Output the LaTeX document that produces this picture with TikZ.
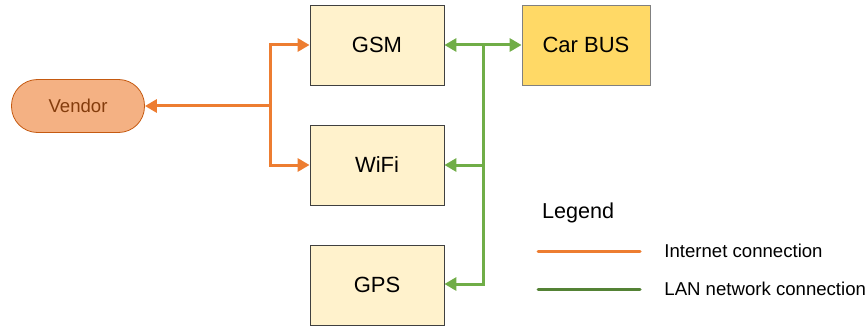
\documentclass[tikz,border=0pt]{standalone}
\usepackage{fontspec}
\setmainfont{Liberation Sans}
\usetikzlibrary{arrows.meta}
\definecolor{boxfill}{HTML}{FFF2CC}
\definecolor{busfill}{HTML}{FFD966}
\definecolor{vendfill}{HTML}{F4B183}
\definecolor{venddraw}{HTML}{C55A11}
\definecolor{vendtext}{HTML}{843C0C}
\definecolor{inetcol}{HTML}{ED7D31}
\definecolor{lancol}{HTML}{70AD47}
\definecolor{legcol}{HTML}{548235}
\tikzset{
  unit/.style={draw=black!75,fill=boxfill,minimum width=67pt,minimum height=40pt,font=\fontsize{11}{13}\selectfont},
  inet/.style={draw=inetcol,line width=1.5pt,-{Triangle[length=6pt,width=6.5pt]}},
  lan/.style={draw=lancol,line width=1.5pt,-{Triangle[length=6pt,width=6.5pt]}}
}
\begin{document}
\begin{tikzpicture}[x=0.5pt,y=-0.5pt]
    \useasboundingbox (0,0) rectangle (867,326);
    % units
    \node[unit] (gsm) at (377,45) {GSM};
    \node[unit] (wifi) at (377,165) {WiFi};
    \node[unit] (gps) at (377,285) {GPS};
    \node[unit,fill=busfill,draw=black!50,minimum width=64pt] (bus) at (586,45) {Car BUS};
    \node[draw=venddraw,fill=vendfill,text=vendtext,rounded corners=13pt,minimum width=66.5pt,minimum height=26.5pt,font=\fontsize{9.3}{11}\selectfont] (vendor) at (78,106) {Vendor};
    % internet
    \coordinate (ojoin) at (270,106);
    \coordinate (gjoin) at (483,45);
    \draw[inet] (ojoin) -- (vendor.east);
    \draw[inet] (ojoin) |- (gsm.west);
    \draw[inet] (ojoin) |- (wifi.west);
    % lan
    \draw[lan,{Triangle[length=6pt,width=6.5pt]}-{Triangle[length=6pt,width=6.5pt]}] (gsm.east) -- (bus.west);
    \draw[lan] (gjoin) |- (wifi.east);
    \draw[lan] (gjoin) |- ([yshift=0.5]gps.east);
    % legend
    \node[anchor=west,font=\fontsize{10.8}{13}\selectfont] (legend) at (535,213) {Legend};
    \coordinate (ia) at (538,251);
    \coordinate (ib) at (640,251);
    \coordinate (la) at (538,289);
    \coordinate (lb) at (640,289);
    \draw[draw=inetcol,line width=1.5pt,line cap=round] (ia) -- (ib);
    \draw[draw=legcol,line width=1.5pt,line cap=round] (la) -- (lb);
    \node[anchor=west,inner sep=0pt,font=\fontsize{9.3}{11}\selectfont] (inettxt) at (664,251) {Internet connection};
    \node[anchor=west,inner sep=0pt,font=\fontsize{9.3}{11}\selectfont] (lantxt) at (664,289) {LAN network connection};
  \end{tikzpicture}
\end{document}
